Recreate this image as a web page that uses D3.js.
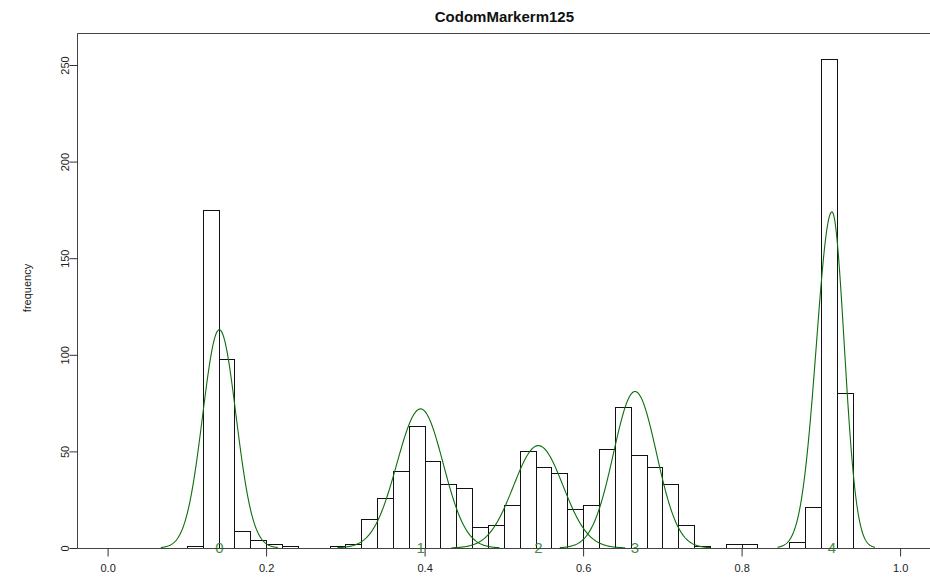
<!DOCTYPE html>
<html>
<head>
<meta charset="utf-8">
<script src="https://cdn.jsdelivr.net/npm/d3@7"></script>
<style>
  html, body { margin: 0; padding: 0; background: #fff; }
  svg { display: block; font-family: "Liberation Sans", Arial, sans-serif; }
</style>
</head>
<body>
<svg id="chart" width="930" height="580"></svg>
<script>
// Histogram bins (lower edge, width 0.02) and their counts
const binStart = [0.10, 0.12, 0.14, 0.16, 0.18, 0.20, 0.22, 0.28, 0.30, 0.32, 0.34, 0.36,
                  0.38, 0.40, 0.42, 0.44, 0.46, 0.48, 0.50, 0.52, 0.54, 0.56, 0.58, 0.60,
                  0.62, 0.64, 0.66, 0.68, 0.70, 0.72, 0.74, 0.78, 0.80, 0.86, 0.88, 0.90, 0.92];
const binCount = [1, 175, 98, 9, 4, 2, 1, 1, 2, 15, 26, 40,
                  63, 45, 33, 31, 11, 12, 22, 50, 42, 39, 20, 22,
                  51, 73, 48, 42, 33, 12, 1, 2, 2, 3, 21, 253, 80];
const binWidth = 0.02;

// Fitted cluster components: label, mode, spread on each side, peak height
const clusterLabel  = ["0", "1", "2", "3", "4"];
const clusterMean   = [0.141, 0.395, 0.5435, 0.6655, 0.914];
const clusterSdLow  = [0.0211, 0.0300, 0.0313, 0.0271, 0.0196];
const clusterSdHigh = [0.0211, 0.0285, 0.0313, 0.0271, 0.0155];
const clusterPeak   = [113, 72, 53, 81, 174];

// Axis ticks
const xTicks = [0.0, 0.2, 0.4, 0.6, 0.8, 1.0];
const yTicks = [0, 50, 100, 150, 200, 250];

const svg = d3.select("#chart");
// Plot region spans x in [-0.04, 1.04]
const x = d3.scaleLinear().domain([0, 1]).range([107.6, 900.1]);
const y = d3.scaleLinear().domain([0, 250]).range([548, 65]);
const box = { left: 77, top: 33, right: x(1.04), bottom: 548 };

// Title, centred over the plot region
svg.append("text")
  .attr("x", (box.left + box.right) / 2).attr("y", 22)
  .attr("text-anchor", "middle")
  .attr("font-weight", "bold")
  .attr("font-size", 15)
  .attr("fill", "#111")
  .text("CodomMarkerm125");

// Bars
svg.append("g")
  .selectAll("rect")
  .data(binStart.map((s, i) => ({ s, c: binCount[i] })))
  .join("rect")
  .attr("x", d => Math.round(x(d.s)) + 0.5)
  .attr("width", d => Math.round(x(d.s + binWidth)) - Math.round(x(d.s)))
  .attr("y", d => Math.round(y(d.c)) + 0.5)
  .attr("height", d => Math.round(y(0)) - Math.round(y(d.c)))
  .attr("fill", "none")
  .attr("stroke", "#111")
  .attr("stroke-width", 1);

// Component density curves (two-sided normal shape)
const line = d3.line().x(d => x(d[0])).y(d => y(d[1])).curve(d3.curveLinear);
const curves = svg.append("g");
clusterMean.forEach((m, i) => {
  const sl = clusterSdLow[i], sh = clusterSdHigh[i], pk = clusterPeak[i];
  const dens = v => {
    const s = v < m ? sl : sh;
    return pk * Math.exp(-0.5 * ((v - m) / s) ** 2);
  };
  const pts = d3.range(m - 3.5 * sl, m + 3.5 * sh + 1e-9, Math.min(sl, sh) / 40)
    .map(v => [v, dens(v)]);
  curves.append("path")
    .attr("d", line(pts))
    .attr("fill", "none")
    .attr("stroke", "#0b6e0b")
    .attr("stroke-width", 1.1);
});

// Cluster labels on the baseline
svg.append("g")
  .selectAll("text")
  .data(clusterLabel)
  .join("text")
  .attr("x", (d, i) => x(clusterMean[i]))
  .attr("y", 553)
  .attr("text-anchor", "middle")
  .attr("font-size", 15)
  .attr("fill", "#3f8f3f")
  .text(d => d);

// Frame
const frame = svg.append("g").attr("stroke", "#444").attr("stroke-width", 1).attr("fill", "none");
frame.append("path").attr("d", `M${box.right},${box.top + 0.5}H${box.left + 0.5}V${box.bottom + 0.5}H${box.right}`);

// X axis
const xAxis = svg.append("g")
  .attr("transform", `translate(0,${box.bottom + 0.5})`)
  .call(d3.axisBottom(x).tickValues(xTicks).tickFormat(d3.format(".1f")).tickSize(8).tickPadding(8));
xAxis.select(".domain").remove();
xAxis.selectAll("line").attr("stroke", "#333");
xAxis.selectAll("text").attr("font-size", 11).attr("fill", "#222")
  .attr("font-family", "Liberation Sans, Arial, sans-serif");

// Y axis
const yAxis = svg.append("g")
  .attr("transform", `translate(${box.left + 0.5},0)`)
  .call(d3.axisLeft(y).tickValues(yTicks).tickSize(8).tickPadding(0));
yAxis.select(".domain").remove();
yAxis.selectAll("line").attr("stroke", "#333");
yAxis.selectAll("text")
  .attr("font-size", 11).attr("fill", "#222")
  .attr("font-family", "Liberation Sans, Arial, sans-serif")
  .attr("text-anchor", "middle")
  .attr("dy", null)
  .attr("x", null)
  .attr("transform", "translate(-11,0) rotate(-90)")
  .attr("dominant-baseline", "middle");

// Y axis title
svg.append("text")
  .attr("transform", "translate(31,288) rotate(-90)")
  .attr("text-anchor", "middle")
  .attr("font-size", 11)
  .attr("fill", "#222")
  .text("frequency");
</script>
</body>
</html>
